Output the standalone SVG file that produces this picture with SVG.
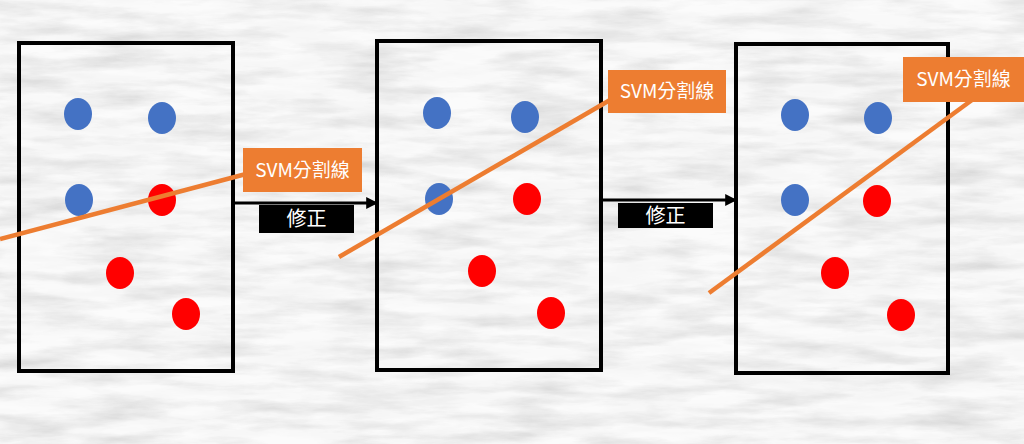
<svg xmlns="http://www.w3.org/2000/svg" width="1024" height="444" viewBox="0 0 1024 444">
  <defs>
    <filter id="brick" x="0" y="0" width="100%" height="100%">
      <feTurbulence type="fractalNoise" baseFrequency="0.012 0.07" numOctaves="5" seed="7" result="n"/>
      <feComponentTransfer in="n" result="g">
        <feFuncR type="linear" slope="0.75" intercept="0.55"/>
        <feFuncG type="linear" slope="0.75" intercept="0.55"/>
        <feFuncB type="linear" slope="0.75" intercept="0.55"/>
        <feFuncA type="linear" slope="0" intercept="1"/>
      </feComponentTransfer>
      <feColorMatrix in="g" type="saturate" values="0"/>
    </filter>
    <marker id="arrow" viewBox="0 0 10 10" refX="9" refY="5" markerWidth="4" markerHeight="4" orient="auto" markerUnits="strokeWidth">
      <path d="M0,0 L10,5 L0,10 z" fill="#000"/>
    </marker>
    <style>
      .panel { fill: none; stroke: #000; stroke-width: 4; }
      .blue { fill: #4472C4; }
      .red { fill: #FF0000; }
      .svm { stroke: #ED7D31; stroke-width: 4.5; fill: none; }
      .lbl { fill: #ED7D31; }
      .lbltxt { fill: #fff; font-family: "Noto Sans CJK TC", "Liberation Sans", sans-serif; font-size: 19px; text-anchor: middle; }
      .fix { fill: #000; }
      .fixtxt { fill: #fff; font-family: "Noto Sans CJK TC", "Liberation Sans", sans-serif; font-size: 20px; text-anchor: middle; }
      .conn { stroke: #000; stroke-width: 3; fill: none; }
    </style>
  </defs>
  <rect x="0" y="0" width="1024" height="444" fill="#e6e6e6"/>
  <rect x="0" y="0" width="1024" height="444" filter="url(#brick)" opacity="0.85"/>

  <g id="panel1">
    <rect class="panel" x="19" y="43" width="214" height="328"/>
    <ellipse class="blue" cx="78" cy="114" rx="14" ry="16"/>
    <ellipse class="blue" cx="162" cy="118" rx="14" ry="16"/>
    <ellipse class="blue" cx="79" cy="200" rx="14" ry="16"/>
    <ellipse class="red" cx="162" cy="200" rx="14" ry="16"/>
    <ellipse class="red" cx="120" cy="273" rx="14" ry="16"/>
    <ellipse class="red" cx="186" cy="314" rx="14" ry="16"/>
    <line class="svm" x1="0" y1="239" x2="246" y2="174"/>
  </g>

  <g id="panel2">
    <rect class="panel" x="377" y="41" width="224" height="329"/>
    <ellipse class="blue" cx="437" cy="113" rx="14" ry="16"/>
    <ellipse class="blue" cx="525" cy="117" rx="14" ry="16"/>
    <ellipse class="blue" cx="439" cy="199" rx="14" ry="16"/>
    <ellipse class="red" cx="527" cy="199" rx="14" ry="16"/>
    <ellipse class="red" cx="482" cy="271" rx="14" ry="16"/>
    <ellipse class="red" cx="551" cy="313" rx="14" ry="16"/>
    <line class="svm" x1="339" y1="257" x2="610" y2="100"/>
  </g>

  <g id="panel3">
    <rect class="panel" x="736" y="44" width="212" height="329"/>
    <ellipse class="blue" cx="795" cy="115" rx="14" ry="16"/>
    <ellipse class="blue" cx="878" cy="118" rx="14" ry="16"/>
    <ellipse class="blue" cx="795" cy="200" rx="14" ry="16"/>
    <ellipse class="red" cx="877" cy="201" rx="14" ry="16"/>
    <ellipse class="red" cx="835" cy="273" rx="14" ry="16"/>
    <ellipse class="red" cx="901" cy="315" rx="14" ry="16"/>
    <line class="svm" x1="709" y1="293" x2="972" y2="100"/>
  </g>

  <g id="label1">
    <rect class="lbl" x="243" y="148" width="119" height="44"/>
    <text class="lbltxt" x="302.5" y="177">SVM分割線</text>
  </g>
  <g id="label2">
    <rect class="lbl" x="608" y="70" width="118" height="43"/>
    <text class="lbltxt" x="667" y="98">SVM分割線</text>
  </g>
  <g id="label3">
    <rect class="lbl" x="903" y="57" width="121" height="45"/>
    <text class="lbltxt" x="963.5" y="86">SVM分割線</text>
  </g>

  <g id="connectors">
    <line class="conn" x1="235" y1="203" x2="377" y2="203" marker-end="url(#arrow)"/>
    <line class="conn" x1="603" y1="200" x2="736" y2="200" marker-end="url(#arrow)"/>
  </g>

  <g id="fix1">
    <rect class="fix" x="259" y="205" width="95" height="28"/>
    <text class="fixtxt" x="306.5" y="226">修正</text>
  </g>
  <g id="fix2">
    <rect class="fix" x="618" y="203" width="95" height="25"/>
    <text class="fixtxt" x="665.5" y="223">修正</text>
  </g>
</svg>
